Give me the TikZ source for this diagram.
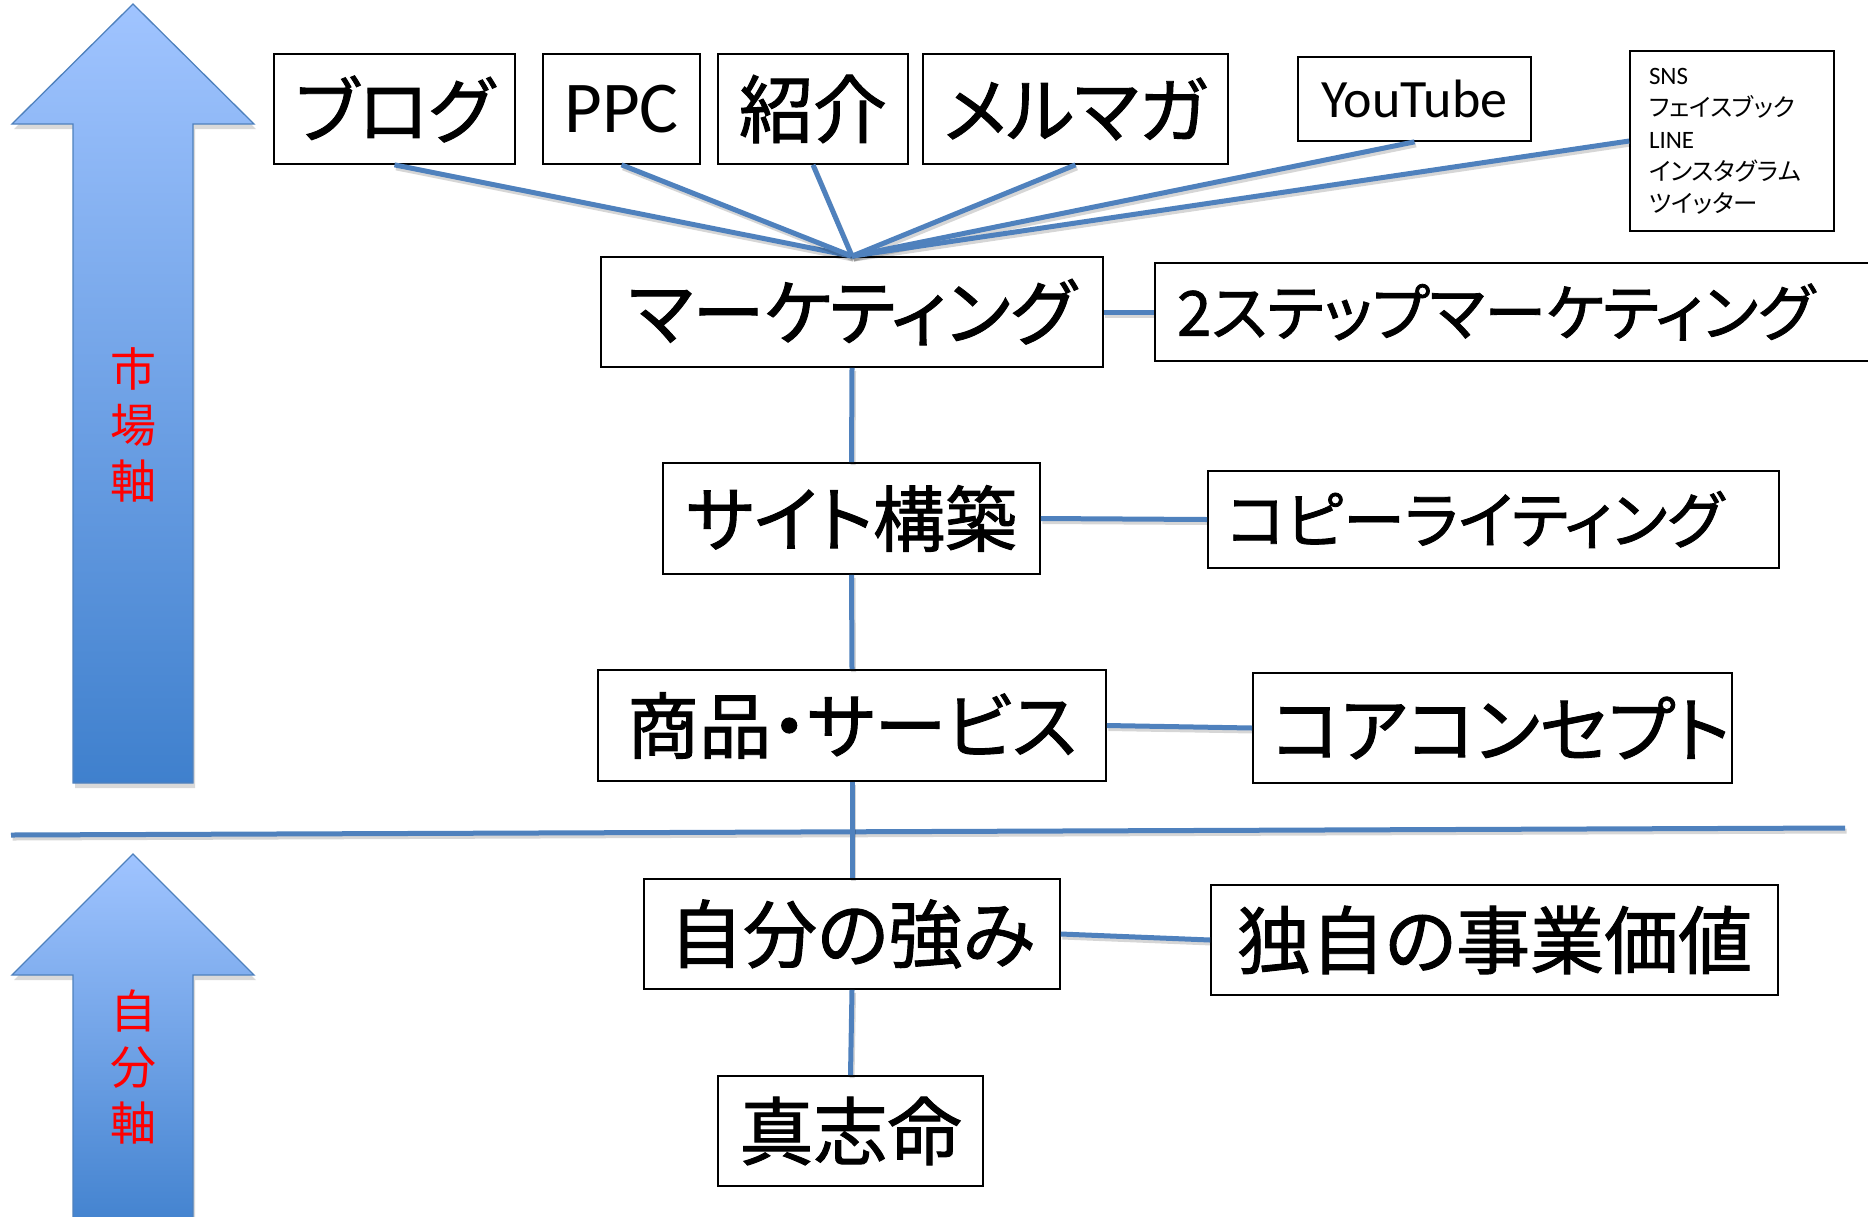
\documentclass[tikz,border=0pt]{standalone}
\usepackage{fontspec}
\setmainfont{Noto Sans CJK JP}[RawFeature=+palt]
\newfontfamily\jpfont{Noto Sans CJK JP}[RawFeature=+palt, FakeBold=1.3]
\newfontfamily\jpsmall{Noto Sans CJK JP}[RawFeature=+palt]
\newfontfamily\latfont{Carlito}
\definecolor{lineblue}{HTML}{4F81BD}
\definecolor{arrowtop}{HTML}{A0C4FF}
\definecolor{arrowbot}{HTML}{3F80CD}
\definecolor{axisred}{HTML}{FF0000}
\tikzset{
  box/.style={draw=black, line width=1.7pt, inner sep=0pt, fill=white},
  bigtxt/.style={font=\jpfont\fontsize{72}{80}\selectfont},
  kanjitxt/.style={font=\jpfont\fontsize{74}{80}\selectfont},
  midtxt/.style={font=\jpfont\fontsize{62}{70}\selectfont},
  conn/.style={draw=lineblue, line width=5pt,
    preaction={draw=black, opacity=0.16, line width=5pt, transform canvas={shift={(1.5pt,-3pt)}}}},
  bigarrow/.style={draw=lineblue, line width=1.3pt, top color=arrowtop, bottom color=arrowbot},
  arrowshadow/.style={fill=black, opacity=0.15, draw=none},
  axislabel/.style={text=axisred, align=center, inner sep=0pt, font=\jpsmall\fontsize{46}{56}\selectfont}
}
\begin{document}
\begin{tikzpicture}[x=1pt,y=-1pt]
\useasboundingbox (0,0) rectangle (1868,1216);
% axis arrows (with soft shadow)
\path[arrowshadow] (75,788) -- (75,129) -- (14,129) -- (135,9) -- (256,129) -- (195,129) -- (195,788) -- cycle;
\path[bigarrow] (73,783) -- (73,124) -- (12,124) -- (133,4) -- (254,124) -- (193,124) -- (193,783) -- cycle;
\path[arrowshadow] (75,1245) -- (75,980) -- (14,980) -- (135,859) -- (256,980) -- (195,980) -- (195,1245) -- cycle;
\path[bigarrow] (73,1240) -- (73,975) -- (12,975) -- (133,854) -- (254,975) -- (193,975) -- (193,1240) -- cycle;
\node[axislabel] (axmarket) at (133,425) {市\\場\\軸};
\node[axislabel] (axself) at (133,1067) {自\\分\\軸};
% divider
\coordinate (divL) at (11,835);
\coordinate (divR) at (1845,828);
\draw[conn] (divL) -- (divR);
% top row
\node[box, bigtxt, minimum width=241pt, minimum height=110pt] (blog) at (394.5,109) {ブログ};
\node[box, minimum width=157pt, minimum height=110pt, font=\latfont\fontsize{73}{80}\selectfont] (ppc) at (621.5,109) {PPC};
\node[box, kanjitxt, minimum width=190pt, minimum height=110pt] (shokai) at (813,109) {紹介};
\node[box, bigtxt, minimum width=305pt, minimum height=110pt] (merumaga) at (1075.5,109) {メルマガ};
\node[box, minimum width=233pt, minimum height=84pt, font=\latfont\fontsize{54}{60}\selectfont] (youtube) at (1414.5,99) {YouTube};
\node[box, minimum width=204pt, minimum height=180pt, text width=166pt, align=left, font=\jpsmall\fontsize{24.5}{32}\selectfont] (sns) at (1732,141)
  {{\latfont\fontsize{25}{32}\selectfont SNS}\\フェイスブック\\{\latfont\fontsize{25}{32}\selectfont LINE}\\インスタグラム\\ツイッター};
% main column
\node[box, bigtxt, minimum width=502pt, minimum height=110pt] (mkt) at (852,312) {マーケティング};
\node[box, bigtxt, minimum width=377pt, minimum height=111pt] (site) at (851.5,518.5) {サイト構築};
\node[box, bigtxt, minimum width=508pt, minimum height=111pt] (shohin) at (852,725.5) {商品・サービス};
\node[box, kanjitxt, minimum width=416pt, minimum height=110pt] (jibun) at (852,934) {自分の強み};
\node[box, kanjitxt, minimum width=265pt, minimum height=110pt] (shin) at (850.5,1131) {真志命};
% right column
\node[box, midtxt, minimum width=745pt, minimum height=98pt, text width=701pt, align=left] (step2) at (1527.5,312) {2ステップマーケティング};
\node[box, midtxt, minimum width=571pt, minimum height=97pt, text width=533pt, align=left] (copy) at (1493.5,519.5) {コピーライティング};
\node[box, bigtxt, minimum width=479pt, minimum height=110pt, text width=441pt, align=left] (core) at (1492.5,728) {コアコンセプト};
\node[box, kanjitxt, minimum width=567pt, minimum height=110pt] (dokuji) at (1494.5,940) {独自の事業価値};
% fan connectors
\coordinate (fan) at (mkt.north);
\foreach \src in {blog, ppc, shokai, merumaga, youtube} \draw[conn] (\src.south) -- (fan);
\draw[conn] (sns.west) -- (fan);
% vertical connectors
\draw[conn] (mkt.south) -- (site.north);
\draw[conn] (site.south) -- (shohin.north);
\draw[conn] (shohin.south) -- (jibun.north);
\draw[conn] (jibun.south) -- (shin.north);
% horizontal connectors
\draw[conn] (mkt.east) -- (step2.west);
\draw[conn] (site.east) -- (copy.west);
\draw[conn] (shohin.east) -- (core.west);
\draw[conn] (jibun.east) -- (dokuji.west);
\end{tikzpicture}
\end{document}
